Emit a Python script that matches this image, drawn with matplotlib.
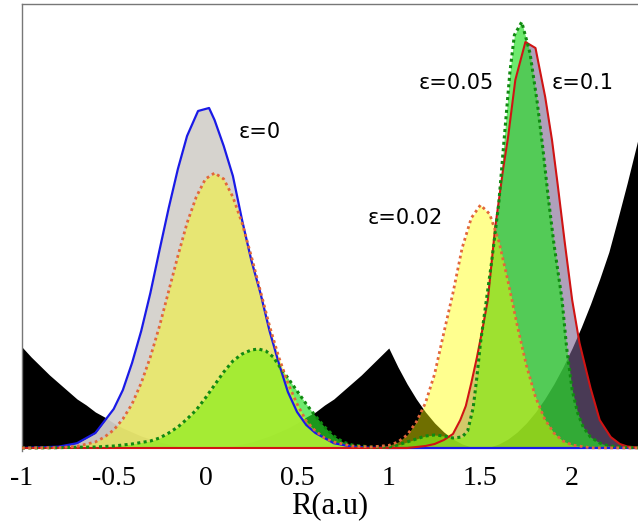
import numpy as np
import matplotlib
matplotlib.use("Agg")
import matplotlib.pyplot as plt

plt.rcParams['axes.unicode_minus'] = False

# potential (black), heights in units of 100 px above the baseline
pot_x = [-1.0, -0.95, -0.9, -0.85, -0.8, -0.75, -0.7, -0.65, -0.6, -0.55, -0.5, -0.45,
         -0.4, -0.35, -0.3, -0.25, -0.2, -0.15, -0.1, -0.05, 0.0,
         0.05, 0.1, 0.15, 0.2, 0.25, 0.3, 0.35, 0.4, 0.45, 0.5, 0.55, 0.6, 0.65, 0.7,
         0.75, 0.8, 0.85, 0.9, 0.95, 1.0,
         1.05, 1.1, 1.15, 1.2, 1.25, 1.3, 1.35, 1.4, 1.45, 1.5, 1.55, 1.6, 1.65, 1.7,
         1.75, 1.8, 1.85, 1.9, 1.95, 2.0, 2.05, 2.1, 2.15, 2.2, 2.25, 2.3, 2.35, 2.4]
pot_v = [1.01, 0.91, 0.82, 0.73, 0.65, 0.57, 0.49, 0.43, 0.36, 0.31, 0.25, 0.20,
         0.16, 0.12, 0.09, 0.06, 0.04, 0.02, 0.01, 0.003, 0.0,
         0.003, 0.01, 0.02, 0.04, 0.06, 0.09, 0.12, 0.16, 0.20, 0.25, 0.31, 0.36, 0.43, 0.49,
         0.57, 0.65, 0.73, 0.82, 0.91, 1.0,
         0.81, 0.64, 0.49, 0.36, 0.25, 0.16, 0.09, 0.04, 0.01, 0.0, 0.01, 0.04, 0.09, 0.16,
         0.25, 0.36, 0.49, 0.64, 0.81, 1.0, 1.21, 1.44, 1.69, 1.96, 2.3, 2.65, 3.02, 3.4]

# eps = 0 (blue line, grey fill)
eps0_x = [-1.0, -0.8, -0.7, -0.6, -0.5, -0.45, -0.4, -0.35, -0.3, -0.25, -0.2, -0.15, -0.1,
          -0.04, 0.02, 0.05, 0.1, 0.15, 0.2, 0.25, 0.3, 0.35, 0.4, 0.45, 0.5, 0.55, 0.6,
          0.7, 0.8, 0.9, 1.0, 2.4]
eps0_y = [0.0, 0.013, 0.048, 0.15, 0.39, 0.58, 0.85, 1.17, 1.55, 1.98, 2.40, 2.79, 3.12,
          3.37, 3.40, 3.28, 3.02, 2.72, 2.28, 1.88, 1.55, 1.17, 0.85, 0.56, 0.36, 0.23, 0.15,
          0.048, 0.013, 0.003, 0.0, 0.0]

# eps = 0.02 (orange dotted, yellow fill)
eps2_x = [-1.0, -0.8, -0.7, -0.6, -0.55, -0.5, -0.45, -0.4, -0.35, -0.3, -0.25, -0.2, -0.15,
          -0.1, -0.05, 0.0, 0.05, 0.1, 0.15, 0.2, 0.25, 0.3, 0.35, 0.4, 0.45, 0.5, 0.55,
          0.6, 0.65, 0.7, 0.8, 0.9, 1.0, 1.05, 1.1, 1.15, 1.2, 1.25, 1.3, 1.35, 1.4, 1.45,
          1.5, 1.55, 1.6, 1.65, 1.7, 1.75, 1.8, 1.85, 1.9, 1.95, 2.0, 2.1, 2.4]
eps2_y = [0.0, 0.004, 0.017, 0.06, 0.11, 0.18, 0.29, 0.44, 0.65, 0.91, 1.22, 1.57, 1.92,
          2.25, 2.51, 2.69, 2.75, 2.69, 2.51, 2.25, 1.92, 1.57, 1.22, 0.91, 0.65, 0.44, 0.27,
          0.17, 0.10, 0.06, 0.02, 0.01, 0.026, 0.06, 0.13, 0.26, 0.45, 0.74, 1.15, 1.55, 2.0, 2.30,
          2.43, 2.34, 2.07, 1.67, 1.23, 0.83, 0.51, 0.29, 0.15, 0.07, 0.03, 0.002, 0.0]

# eps = 0.05 (green dotted, green fill)
eps5_x = [-1.0, -0.8, -0.7, -0.6, -0.5, -0.4, -0.3, -0.25, -0.2, -0.15, -0.1, -0.05, 0.0,
          0.05, 0.1, 0.15, 0.2, 0.25, 0.29, 0.33, 0.37, 0.41, 0.45, 0.5, 0.55, 0.6, 0.65,
          0.7, 0.75, 0.8, 0.9, 1.0, 1.05, 1.1, 1.15, 1.2, 1.25, 1.3, 1.35, 1.4, 1.43, 1.46,
          1.48, 1.5, 1.53, 1.56, 1.6, 1.625, 1.66, 1.685, 1.725, 1.77, 1.81, 1.84, 1.87, 1.9,
          1.945, 1.97, 2.0, 2.03, 2.06, 2.1, 2.15, 2.2, 2.3, 2.4]
eps5_y = [0.0, 0.003, 0.008, 0.01, 0.02, 0.04, 0.07, 0.10, 0.15, 0.21, 0.29, 0.38, 0.50,
          0.63, 0.76, 0.87, 0.94, 0.98, 0.99, 0.97, 0.91, 0.80, 0.70, 0.57, 0.44, 0.32, 0.21,
          0.12, 0.06, 0.03, 0.01, 0.01, 0.03, 0.06, 0.09, 0.12, 0.13, 0.12, 0.10, 0.11, 0.17, 0.40,
          0.70, 1.05, 1.45, 1.85, 2.45, 3.0, 3.75, 4.13, 4.26, 3.95, 3.45, 3.0, 2.5, 2.05,
          1.48, 1.0, 0.58, 0.35, 0.21, 0.11, 0.05, 0.02, 0.005, 0.0]

# eps = 0.1 (red line, mauve fill)
eps10_x = [-1.0, 1.1, 1.15, 1.2, 1.25, 1.3, 1.35, 1.39, 1.42, 1.45, 1.48, 1.51, 1.54, 1.58,
           1.625, 1.65, 1.69, 1.745, 1.80, 1.853, 1.89, 1.92, 1.96, 2.0, 2.04, 2.1, 2.15,
           2.21, 2.26, 2.3, 2.35, 2.4]
eps10_y = [0.0, 0.0, 0.01, 0.02, 0.04, 0.08, 0.14, 0.28, 0.42, 0.65, 0.90, 1.18, 1.48, 2.2,
           2.81, 3.1, 3.68, 4.06, 4.0, 3.51, 3.08, 2.65, 2.05, 1.48, 1.05, 0.6, 0.28,
           0.11, 0.04, 0.015, 0.005, 0.0]

tick_vals = [-1, -0.5, 0, 0.5, 1, 1.5, 2]
tick_labels = ["-1", "-0.5", "0", "0.5", "1", "1.5", "2"]

fig = plt.figure(figsize=(6.38, 5.26), dpi=100)
ax = fig.add_axes([22/638, 75/526, 616/638, 447/526])

ax.fill_between(pot_x, 0, pot_v, color="black", lw=0, zorder=2)
ax.fill_between(eps0_x, 0, eps0_y, color="#d4d1cb", alpha=0.94, lw=0, zorder=3)
ax.fill_between(eps10_x, 0, eps10_y, color="#7b618e", alpha=0.6, lw=0, zorder=4)
ax.fill_between(eps5_x, 0, eps5_y, color="#28e128", alpha=0.68, lw=0, zorder=5)
ax.fill_between(eps2_x, 0, eps2_y, color="#ffff00", alpha=0.44, lw=0, zorder=6)

ax.plot(eps0_x, eps0_y, color="#1a1ae6", lw=1.6, zorder=7)
ax.plot(eps10_x, eps10_y, color="#d01414", lw=1.5, zorder=8)
ax.plot(eps5_x, eps5_y, color="#118a11", lw=2.2, linestyle=(0, (1, 1.1)), zorder=9)
ax.plot(eps2_x, eps2_y, color="#e2673a", lw=2.0, linestyle=(0, (1, 1.2)), zorder=10)

txt = dict(fontsize=15, family="DejaVu Sans", va="center", ha="left", zorder=11)
ax.text(0.18, 3.16, "ε=0", **txt)
ax.text(0.886, 2.30, "ε=0.02", **txt)
ax.text(1.163, 3.65, "ε=0.05", **txt)
ax.text(1.886, 3.65, "ε=0.1", **txt)

ax.set_xlim(-0.989, 2.359)
ax.set_ylim(-0.03, 4.44)
ax.set_xticks(tick_vals)
ax.set_xticklabels(tick_labels, family="Liberation Serif", fontsize=20)
ax.tick_params(axis="x", length=0, pad=11)
ax.set_yticks([])
ax.set_xlabel("R(a.u)", family="Liberation Serif", fontsize=22, labelpad=0)

for s in ["bottom", "right"]:
    ax.spines[s].set_visible(False)
for s in ["left", "top"]:
    ax.spines[s].set_color("#777777")
    ax.spines[s].set_linewidth(1.0)

fig.savefig("out.png", dpi=100)
